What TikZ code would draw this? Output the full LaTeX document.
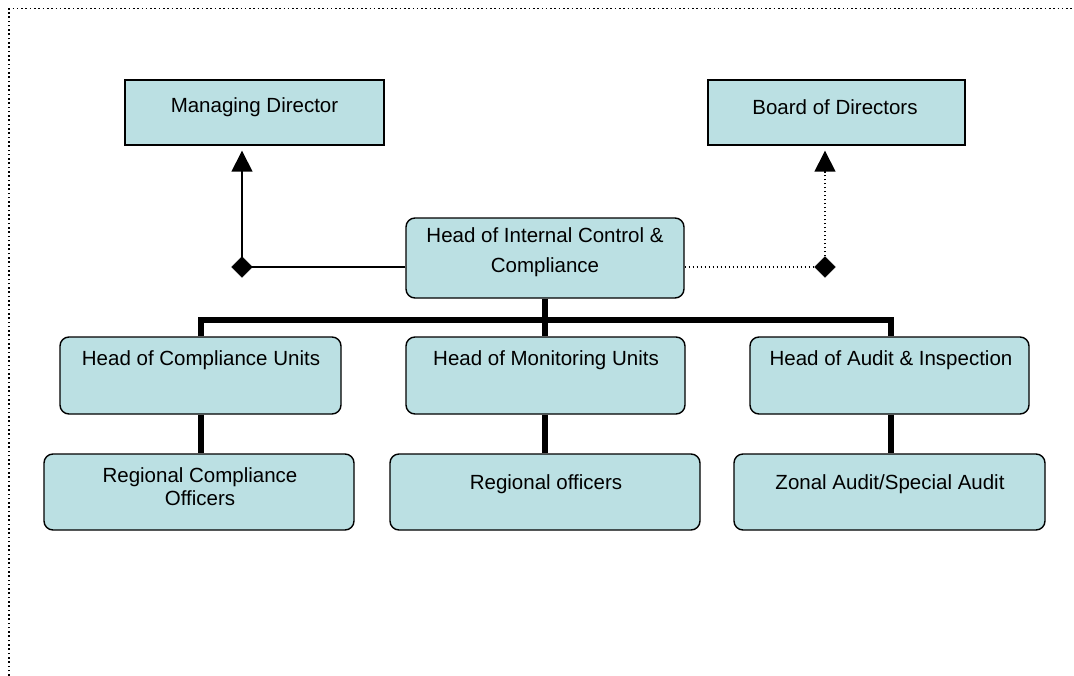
\documentclass[tikz,border=0pt]{standalone}
\usepackage{fontspec}
\setmainfont{Liberation Sans}
\usetikzlibrary{arrows.meta,shapes.geometric}
\definecolor{boxfill}{HTML}{BBE0E3}
\begin{document}
\begin{tikzpicture}[x=1pt,y=-1pt,
  sqbox/.style={draw=black,line width=1.4pt,fill=boxfill,inner sep=0pt,rectangle},
  rbox/.style={draw=black,line width=1.4pt,fill=boxfill,inner sep=0pt,rectangle,rounded corners=9pt},
  lbl/.style={font=\fontsize{20.5}{23}\selectfont,align=center,inner sep=0pt},
  thin/.style={line width=1.5pt},
  dots/.style={line width=1.6pt,dash pattern=on 1.6pt off 2.4pt},
  bus/.style={line width=6pt},
  dia/.style={diamond,fill=black,draw=black,inner sep=0pt,minimum width=21pt,minimum height=21pt},
  tip/.style={-{Triangle[width=21pt,length=21pt]}}
]
\useasboundingbox (0,0) rectangle (1074,675);
\fill[white] (0,0) rectangle (1074,675);
% frame
\draw[line width=1.6pt,dash pattern=on 1.6pt off 2.7pt] (9,680) -- (9,8.5) -- (1080,8.5);

% boxes
\node[sqbox,minimum width=259pt,minimum height=65pt] (md) at (254.5,112.5) {};
\node[sqbox,minimum width=257pt,minimum height=65pt] (bod) at (836.5,112.5) {};
\node[rbox,minimum width=278pt,minimum height=80pt] (hic) at (545,258) {};
\node[rbox,minimum width=281pt,minimum height=77pt] (hcu) at (200.5,375.5) {};
\node[rbox,minimum width=279pt,minimum height=77pt] (hmu) at (545.5,375.5) {};
\node[rbox,minimum width=279pt,minimum height=77pt] (hai) at (889.5,375.5) {};
\node[rbox,minimum width=310pt,minimum height=76pt] (rco) at (199,492) {};
\node[rbox,minimum width=310pt,minimum height=76pt] (ro) at (545,492) {};
\node[rbox,minimum width=311pt,minimum height=76pt] (za) at (889.5,492) {};

% labels
\node[lbl] (md-t) at (254.5,107) {Managing Director};
\node[lbl] (bod-t) at (835,107) {Board of Directors};
\node[lbl] (hic-t) at (545,252) {Head of Internal Control \&\\[7pt]Compliance};
\node[lbl] (hcu-t) at (201,360) {Head of Compliance Units};
\node[lbl] (hmu-t) at (546,360) {Head of Monitoring Units};
\node[lbl] (hai-t) at (891,360) {Head of Audit \& Inspection};
\node[lbl] (rco-t) at (200,487) {Regional Compliance\\Officers};
\node[lbl] (ro-t) at (546,484) {Regional officers};
\node[lbl] (za-t) at (890,484) {Zonal Audit/Special Audit};

% diamonds
\node[dia] (dl) at (242,267) {};
\node[dia] (dr) at (825,267) {};

% arrow points
\coordinate (mdtip) at ([yshift=-5pt]dl.center |- md.south);
\coordinate (bodbase) at ([yshift=-27pt]dr.center |- bod.south);
\coordinate (bodtip) at ([yshift=-5pt]dr.center |- bod.south);

% left connector
\draw[thin] (hic.west |- dl) -- (dl.center);
\draw[thin,tip] (dl.center) -- (mdtip);
% right connector
\draw[dots] (hic.east |- dr) -- (dr.west);
\draw[dots] (dr.north) -- (bodbase);
\draw[thin,tip] (bodbase) -- (bodtip);

% bus
\coordinate (bj) at (545,320);
\draw[bus] (hic.south) -- (bj);
\draw[bus] (hcu.north -| 201,0) -- (201,320) -- (891,320) -- (hai.north -| 891,0);
\draw[bus] (bj) -- (hmu.north -| bj);
\draw[bus] (hcu.south -| 201,0) -- (rco.north -| 201,0);
\draw[bus] (hmu.south -| bj) -- (ro.north -| bj);
\draw[bus] (hai.south -| 891,0) -- (za.north -| 891,0);
\end{tikzpicture}
\end{document}
